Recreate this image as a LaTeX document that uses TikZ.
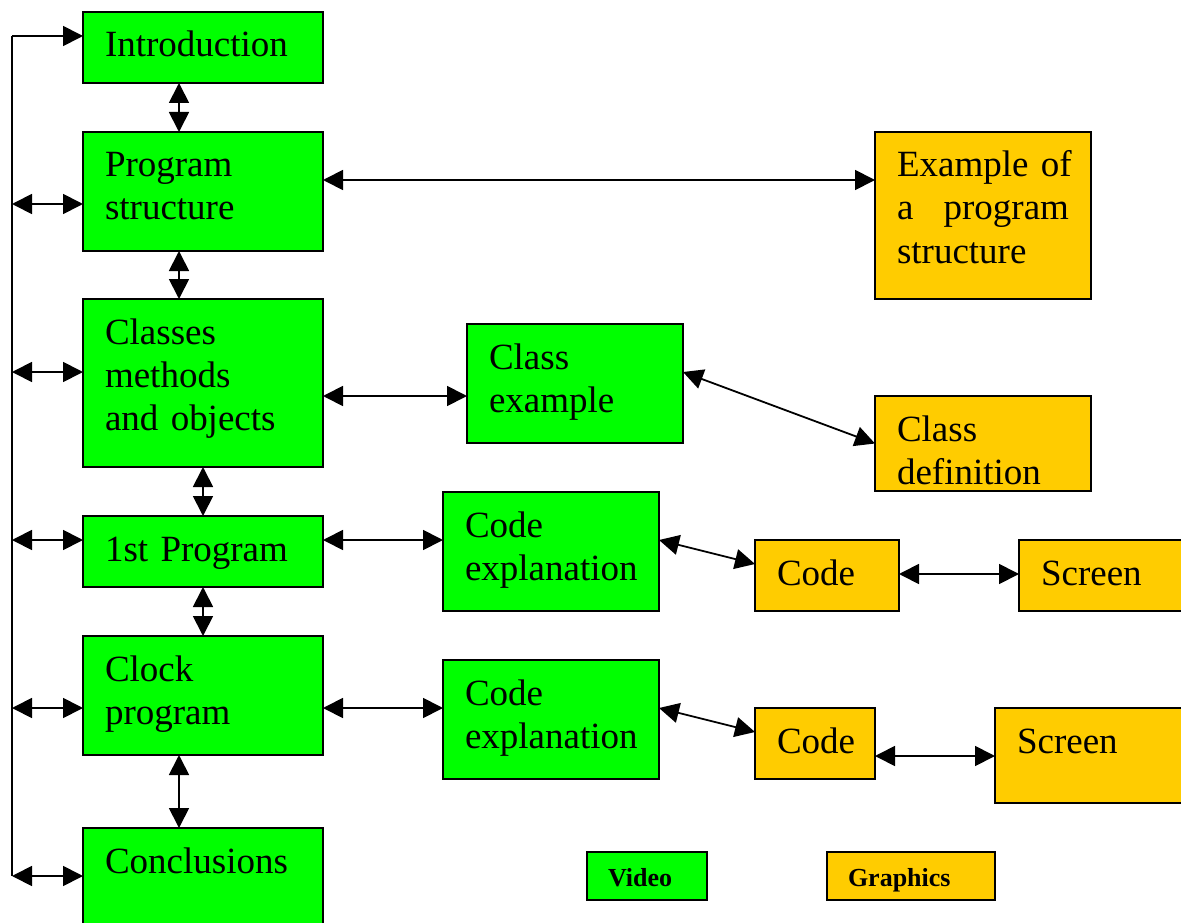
\documentclass[tikz,border=0pt]{standalone}
\usepackage{fontspec}
\setmainfont{Liberation Serif}
\usetikzlibrary{arrows.meta}
\definecolor{vidgreen}{HTML}{00FF00}
\definecolor{gfxorange}{HTML}{FFCC00}
\tikzset{
	blk/.style={draw,line width=1.8pt,anchor=north west,outer sep=0pt,inner xsep=22pt,inner ysep=0pt,
		align=left,text height=45pt,font=\fontsize{37}{43}\selectfont},
	vid/.style={blk,fill=vidgreen},
	gfx/.style={blk,fill=gfxorange},
	sz/.style 2 args={text width=#1,text depth=#2},
	keybox/.style={blk,inner xsep=21pt,text height=34pt,text depth=14pt,font=\fontsize{26}{30}\selectfont\bfseries},
	link/.style={<->,line width=1.8pt},
}
\begin{document}
\begin{tikzpicture}[x=1pt,y=-1pt,>={Triangle[length=20pt,width=20pt]}]
	\useasboundingbox (0,0) rectangle (1181,923);
	% main column
	\node[vid,sz={196pt}{26pt}] (intro) at (83,12) {Introduction};
	\node[vid,sz={196pt}{74pt}] (prog) at (83,132) {Program\\structure};
	\node[vid,sz={196pt}{123pt}] (cls) at (83,299) {Classes\\methods\\and objects};
	\node[vid,sz={196pt}{26pt}] (first) at (83,516) {1st Program};
	\node[vid,sz={196pt}{74pt}] (clock) at (83,636) {Clock\\program};
	\node[vid,sz={196pt}{75pt}] (concl) at (83,828) {Conclusions};
	% side boxes
	\node[gfx,sz={172pt}{122pt}] (ex) at (875,132) {Example~of\\\makebox[172pt]{a\hfill program}\\structure};
	\node[vid,sz={172pt}{74pt}] (clsex) at (467,324) {Class\\example};
	\node[gfx,sz={172pt}{50pt}] (clsdef) at (875,396) {Class\\definition};
	\node[vid,sz={172pt}{74pt}] (expl1) at (443,492) {Code\\explanation};
	\node[gfx,sz={100pt}{26pt}] (code1) at (755,540) {Code};
	\node[gfx,sz={150pt}{26pt}] (scr1) at (1019,540) {Screen};
	\node[vid,sz={172pt}{74pt}] (expl2) at (443,660) {Code\\explanation};
	\node[gfx,sz={76pt}{26pt}] (code2) at (755,708) {Code};
	\node[gfx,sz={170pt}{50pt}] (scr2) at (995,708) {Screen};
	% key
	\node[keybox,fill=vidgreen,text width=78pt] (kvid) at (587,852) {Video};
	\node[keybox,fill=gfxorange,text width=126pt] (kgfx) at (827,852) {Graphics};
	% left bus
	\coordinate (top) at (12,36);
	\foreach \n/\y in {prog/204,cls/372,first/540,clock/708,concl/876}{
		\coordinate (tap-\n) at (12,\y);
		\draw[link] (tap-\n) -- (tap-\n -| \n.west);
	}
	\draw[line width=1.8pt] (tap-concl) -- (top);
	\draw[->,line width=1.8pt] (top) -- (top -| intro.west);
	% down the column
	\draw[link] ([xshift=-24pt]intro.south) -- ([xshift=-24pt]prog.north);
	\draw[link] ([xshift=-24pt]prog.south) -- ([xshift=-24pt]cls.north);
	\draw[link] (cls.south) -- (first.north);
	\draw[link] (first.south) -- (clock.north);
	\draw[link] ([xshift=-24pt]clock.south) -- ([xshift=-24pt]concl.north);
	% across
	\draw[link] ([yshift=11.5pt]prog.east) -- ([yshift=11.5pt]prog.east -| ex.west);
	\draw[link] ([yshift=-13pt]cls.east) -- ([yshift=-13pt]cls.east -| clsex.west);
	\draw[link] ([yshift=11.5pt]clsex.east) -- (clsdef.west);
	\draw[link] ([yshift=11.5pt]first.east) -- ([yshift=11.5pt]first.east -| expl1.west);
	\draw[link] ([yshift=11.5pt]expl1.east) -- ([yshift=11.5pt]code1.west);
	\draw[link] ([yshift=1.5pt]code1.east) -- ([yshift=1.5pt]code1.east -| scr1.west);
	\draw[link] ([yshift=-12.5pt]clock.east) -- ([yshift=-12.5pt]clock.east -| expl2.west);
	\draw[link] ([yshift=11.5pt]expl2.east) -- ([yshift=11.5pt]code2.west);
	\draw[link] ([yshift=-12.5pt]code2.east) -- ([yshift=-12.5pt]code2.east -| scr2.west);
\end{tikzpicture}
\end{document}
